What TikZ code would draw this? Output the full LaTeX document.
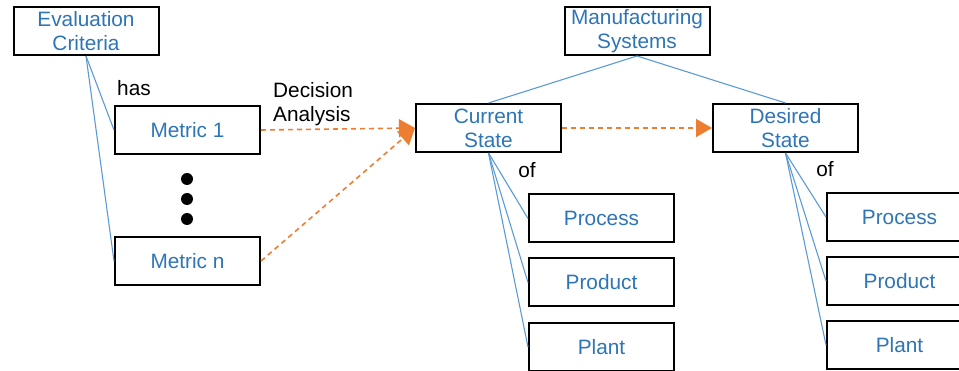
\documentclass[tikz,border=0pt]{standalone}
\usepackage{fontspec}
\setmainfont{Liberation Sans}
\usetikzlibrary{arrows.meta}
\definecolor{txtblue}{HTML}{2E75B6}
\definecolor{lnblue}{HTML}{5B9BD5}
\definecolor{flow}{HTML}{ED7D31}
\tikzset{
  box/.style={draw=black, line width=2pt, fill=white, minimum width=145pt, minimum height=48pt,
    inner sep=0pt, align=center, text=txtblue, font=\fontsize{20.8}{24}\selectfont},
  lbl/.style={inner sep=0pt, align=left, text=black, font=\fontsize{20.8}{24}\selectfont},
  link/.style={draw=lnblue, line width=1.1pt},
  flowarrow/.style={draw=flow, line width=1.6pt, dash pattern=on 5pt off 4pt,
    -{Triangle[length=16pt,width=18pt,fill=flow]}},
  dotmark/.style={circle, fill=black, minimum size=12pt, inner sep=0pt},
}
\begin{document}
\begin{tikzpicture}[x=1pt, y=-1pt]
\useasboundingbox (0,0) rectangle (959,371);
\clip (0,0) rectangle (959,371);

\node[box] (eval) at (86,31) {Evaluation\\Criteria};
\node[box] (m1) at (187.5,130) {Metric 1};
\node[box] (mn) at (187.5,261) {Metric n};
\node[box] (mfg) at (637,31) {Manufacturing\\Systems};
\node[box] (cur) at (488.5,128) {Current\\State};
\node[box] (des) at (785.5,128) {Desired\\State};

\node[box] (cproc) at (601.5,218.5) {Process};
\node[box] (cprod) at (601.5,282.5) {Product};
\node[box] (cplant) at (601.5,347) {Plant};

\node[box] (dproc) at (899.5,217) {Process};
\node[box] (dprod) at (899.5,281) {Product};
\node[box] (dplant) at (899.5,345) {Plant};

% dots between the metrics
\node[dotmark] (d1) at (187,179) {};
\node[dotmark] (d2) at (187,199) {};
\node[dotmark] (d3) at (187,219) {};

% relation labels
\node[lbl, anchor=west] (has) at (117,88) {has};
\node[lbl, anchor=west] (da) at (273,104) {Decision\\Analysis};
\node[lbl] (of1) at (527,170) {of};
\node[lbl] (of2) at (825,169) {of};

% hierarchy links
\draw[link] (eval.south) -- (m1.west);
\draw[link] (eval.south) -- (mn.west);
\draw[link] (mfg.south) -- (cur.north);
\draw[link] (mfg.south) -- (des.north);
\draw[link] (cur.south) -- (cproc.west);
\draw[link] (cur.south) -- (cprod.west);
\draw[link] (cur.south) -- (cplant.west);
\draw[link] (des.south) -- (dproc.west);
\draw[link] (des.south) -- (dprod.west);
\draw[link] (des.south) -- (dplant.west);

% decision flow
\draw[flowarrow] (m1.east) -- (cur.west);
\draw[flowarrow] (mn.east) -- (cur.west);
\draw[flowarrow] (cur.east) -- (des.west);
\end{tikzpicture}
\end{document}
